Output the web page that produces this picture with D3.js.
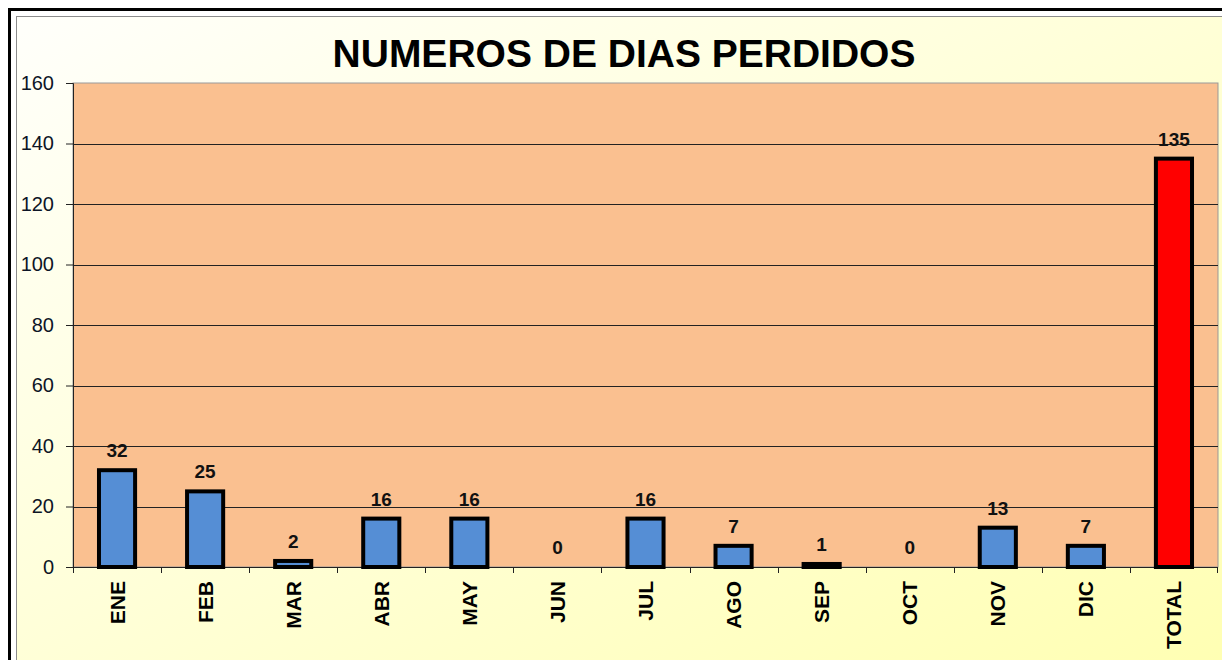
<!DOCTYPE html>
<meta charset="utf-8">
<script src="https://d3js.org/d3.v7.min.js"></script>
<style>
  body { margin: 0; background: #fff; }
  svg { display: block; font-family: "Liberation Sans", Arial, sans-serif; }
</style>
<div id="page"></div>
<script>

  // Data
  var meses = ["ENE", "FEB", "MAR", "ABR", "MAY", "JUN", "JUL", "AGO", "SEP", "OCT", "NOV", "DIC", "TOTAL"];
  var dias = [32, 25, 2, 16, 16, 0, 16, 7, 1, 0, 13, 7, 135];
  var yTicks = [0, 20, 40, 60, 80, 100, 120, 140, 160];
  var titulo = "NUMEROS DE DIAS PERDIDOS";

  var W = 1222, H = 660;
  var margin = { top: 83, right: 4, bottom: 93, left: 73 },
    width = W - margin.left - margin.right,
    height = H - margin.top - margin.bottom;

  var svg = d3.select("#page")
    .append("svg")
    .attr("width", W)
    .attr("height", H);

  // Background gradient (white -> light yellow)
  var grad = svg.append("defs").append("linearGradient")
    .attr("id", "bg")
    .attr("x1", 0).attr("y1", 0).attr("x2", 1).attr("y2", 1);
  grad.append("stop").attr("offset", "0%").attr("stop-color", "#fffffb");
  grad.append("stop").attr("offset", "100%").attr("stop-color", "#ffffb0");

  // Frames
  svg.append("rect")
    .attr("x", 9.5).attr("y", 9.5)
    .attr("width", W + 20).attr("height", H + 20)
    .attr("fill", "#fff")
    .attr("stroke", "#000")
    .attr("stroke-width", 3);
  svg.append("rect")
    .attr("x", 16.5).attr("y", 16.5)
    .attr("width", W + 20).attr("height", H + 20)
    .attr("fill", "url(#bg)")
    .attr("stroke", "#8c8c8c")
    .attr("stroke-width", 1);

  // Title
  svg.append("text")
    .attr("x", 624)
    .attr("y", 67)
    .attr("text-anchor", "middle")
    .attr("font-size", "39px")
    .attr("font-weight", "bold")
    .attr("fill", "#000")
    .text(titulo);

  var g = svg.append("g")
    .attr("transform", "translate(" + margin.left + "," + margin.top + ")");

  var x = d3.scaleBand()
    .domain(meses)
    .range([0, width])
    .padding(0);

  var y = d3.scaleLinear()
    .domain([0, 160])
    .range([height, 0]);

  // Plot area
  g.append("rect")
    .attr("x", 0).attr("y", 0)
    .attr("width", width).attr("height", height)
    .attr("fill", "#fac090")
    .attr("stroke", "#999")
    .attr("stroke-width", 1);

  // Gridlines
  g.selectAll(".grid")
    .data(yTicks.filter(function (d) { return d > 0 && d < 160; }))
    .enter()
    .append("line")
    .attr("x1", 0).attr("x2", width)
    .attr("y1", function (d) { return Math.round(y(d)) + 0.5; })
    .attr("y2", function (d) { return Math.round(y(d)) + 0.5; })
    .attr("stroke", "#222")
    .attr("stroke-width", 1);

  // y-axis
  var yAxis = g.append("g")
    .call(d3.axisLeft(y).tickValues(yTicks).tickSize(7).tickPadding(12));
  yAxis.select(".domain").attr("stroke", "#222");
  yAxis.selectAll("line").attr("stroke", "#222");
  yAxis.selectAll("text")
    .attr("font-size", "20px")
    .attr("font-family", "Liberation Sans, Arial, sans-serif")
    .attr("fill", "#0d1526");

  // x-axis: ticks on band boundaries
  var xAxis = g.append("g")
    .attr("transform", "translate(0," + height + ")");
  xAxis.append("line")
    .attr("x1", 0).attr("x2", width)
    .attr("y1", 0.5).attr("y2", 0.5)
    .attr("stroke", "#222");
  xAxis.selectAll(".xtick")
    .data(meses)
    .enter()
    .append("line")
    .attr("x1", function (d) { return Math.round(x(d)) + 0.5; })
    .attr("x2", function (d) { return Math.round(x(d)) + 0.5; })
    .attr("y1", 0).attr("y2", 6)
    .attr("stroke", "#222");
  xAxis.append("line")
    .attr("x1", width - 0.5).attr("x2", width - 0.5)
    .attr("y1", 0).attr("y2", 6)
    .attr("stroke", "#222");

  xAxis.selectAll(".xlabel")
    .data(meses)
    .enter()
    .append("text")
    .attr("transform", function (d) {
      return "translate(" + (x(d) + x.bandwidth() / 2 + 7.5) + ",14)rotate(-90)";
    })
    .attr("text-anchor", "end")
    .attr("font-size", "21px")
    .attr("font-weight", "bold")
    .attr("fill", "#000")
    .text(function (d) { return d; });

  // Bars
  var barW = x.bandwidth() * 0.41;
  g.selectAll(".bar")
    .data(dias)
    .enter()
    .append("rect")
    .attr("x", function (d, i) { return x(meses[i]) + (x.bandwidth() - barW) / 2; })
    .attr("width", barW)
    .attr("y", function (d) { return y(d); })
    .attr("height", function (d) { return height - y(d); })
    .attr("fill", function (d, i) { return meses[i] === "TOTAL" ? "#ff0000" : "#558ed5"; })
    .attr("stroke", "#000")
    .attr("stroke-width", function (d) { return d > 0 ? 4 : 0; });

  // Value labels
  g.selectAll(".val")
    .data(dias)
    .enter()
    .append("text")
    .attr("x", function (d, i) { return x(meses[i]) + x.bandwidth() / 2; })
    .attr("y", function (d) { return y(d) - 13; })
    .attr("text-anchor", "middle")
    .attr("font-size", "19px")
    .attr("font-weight", "bold")
    .attr("fill", "#111")
    .text(function (d) { return d; });

</script>
